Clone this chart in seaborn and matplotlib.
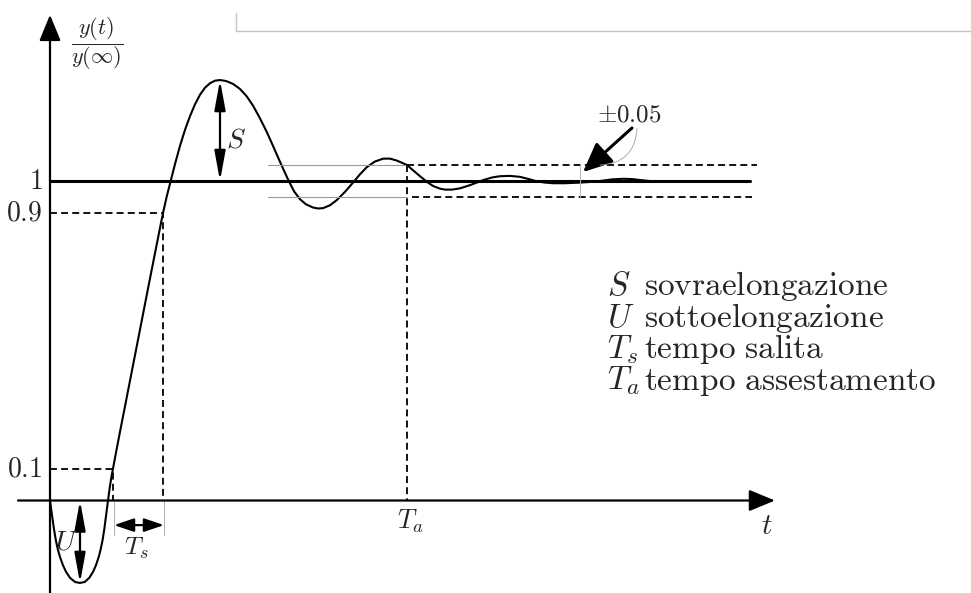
import matplotlib
matplotlib.use("Agg")
import matplotlib.pyplot as plt
import pandas as pd
import seaborn as sns

# Normalised step response y(t)/y(inf), sampled along the curve
t_vals = [0.0, 0.02, 0.04, 0.06, 0.08, 0.10, 0.13, 0.16, 0.20, 0.25, 0.30,
          0.347, 0.393, 0.431, 0.459, 0.487, 0.505, 0.524, 0.543, 0.561, 0.58,
          0.60, 0.615, 0.63, 0.66, 0.70, 0.80, 0.90, 1.00, 1.06, 1.10, 1.13,
          1.17, 1.207, 1.25, 1.30, 1.35, 1.40, 1.45, 1.50, 1.55, 1.60, 1.65,
          1.70, 1.76, 1.83, 1.90, 1.967, 2.03, 2.10, 2.17, 2.23, 2.30, 2.383,
          2.44, 2.50, 2.56, 2.63, 2.68, 2.73, 2.80, 2.867, 2.95, 3.033, 3.10,
          3.167, 3.25, 3.333, 3.40, 3.467, 3.52, 3.57, 3.64, 3.70, 3.77, 3.833,
          3.90, 3.95, 4.02, 4.10, 4.20, 4.333, 4.42, 4.50, 4.60, 4.70, 4.80,
          4.867, 4.95, 5.033, 5.15, 5.30, 5.40, 5.50, 5.62, 5.733, 5.82, 5.90,
          6.03, 6.167]
y_vals = [0.0, -0.046, -0.090, -0.127, -0.155, -0.177, -0.203, -0.223, -0.242,
          -0.255, -0.258, -0.255, -0.242, -0.223, -0.203, -0.177, -0.155,
          -0.127, -0.090, -0.046, 0.0, 0.046, 0.075, 0.10, 0.150, 0.215, 0.375,
          0.535, 0.695, 0.790, 0.853, 0.90, 0.955, 1.0, 1.053, 1.110, 1.160,
          1.203, 1.240, 1.270, 1.292, 1.306, 1.314, 1.316, 1.313, 1.304, 1.288,
          1.265, 1.236, 1.196, 1.152, 1.110, 1.060, 1.003, 0.968, 0.943, 0.927,
          0.917, 0.914, 0.915, 0.924, 0.940, 0.966, 0.996, 1.021, 1.043, 1.061,
          1.070, 1.070, 1.064, 1.057, 1.05, 1.031, 1.015, 0.997, 0.984, 0.976,
          0.973, 0.973, 0.977, 0.987, 1.003, 1.011, 1.015, 1.016, 1.013, 1.005,
          0.999, 0.995, 0.993, 0.993, 0.995, 0.997, 1.0, 1.005, 1.007, 1.006,
          1.003, 0.999, 0.997]

y_final = 1.0
rise_low, rise_high = 0.1, 0.9
band = 0.05
t_rise_start, t_rise_end = 0.63, 1.13
t_settle = 3.57
t_peak, y_peak = 1.70, 1.316
t_under, y_under = 0.30, -0.258

level_labels = ["$1$", "$0.9$", "$0.1$"]
level_values = [1.0, 0.9, 0.1]
legend_symbols = ["$S$", "$U$", "$T_s$", "$T_a$"]
legend_words = [r"$\mathrm{sovraelongazione}$",
                r"$\mathrm{sottoelongazione}$",
                r"$\mathrm{tempo\ salita}$",
                r"$\mathrm{tempo\ assestamento}$"]

sns.set_style("white")
plt.rcParams["mathtext.fontset"] = "cm"
plt.rcParams["lines.scale_dashes"] = False

fig = plt.figure(figsize=(9.71, 5.93), dpi=100)
ax = fig.add_axes([0, 0, 1, 1])
ax.set_xlim(-0.5, 9.21)
ax.set_ylim(-0.2895, 1.5665)
ax.axis("off")

df = pd.DataFrame({"t": t_vals, "y": y_vals})
sns.lineplot(data=df, x="t", y="y", sort=False, estimator=None,
             color="black", linewidth=1.5, ax=ax)

dash = (0, (5, 3))
grey = "#9a9a9a"

# axes with arrow heads
ax_arrow = dict(arrowstyle="-|>,head_length=0.8,head_width=0.33",
                mutation_scale=20, lw=1.6, color="black",
                shrinkA=0, shrinkB=0)
ax.annotate("", xy=(0, 1.52), xytext=(0, -0.2895), arrowprops=ax_arrow)
ax.annotate("", xy=(7.25, 0), xytext=(-0.32, 0), arrowprops=ax_arrow)

# final value
ax.plot([0, 7.0], [y_final, y_final], color="black", lw=2.2)

# rise time guides
ax.plot([0, t_rise_end, t_rise_end], [rise_high, rise_high, 0],
        color="black", lw=1.3, linestyle=dash)
ax.plot([0, t_rise_start, t_rise_start], [rise_low, rise_low, 0],
        color="black", lw=1.3, linestyle=dash)
for tx in (t_rise_start, t_rise_end):
    ax.plot([tx + 0.01, tx + 0.01], [0, -0.108], color="#b0b0b0", lw=0.7)

# settling band
ax.plot([2.18, t_settle], [y_final + band] * 2, color=grey, lw=0.8)
ax.plot([2.18, t_settle], [y_final - band] * 2, color=grey, lw=0.8)
ax.plot([t_settle, 7.07], [y_final + band] * 2, color="black", lw=1.3, linestyle=dash)
ax.plot([t_settle + 0.05, 7.02], [y_final - band] * 2, color="black", lw=1.3, linestyle=dash)
ax.plot([t_settle, t_settle], [y_final + band, 0], color="black", lw=1.3, linestyle=dash)
ax.plot([5.30, 5.30], [y_final - band, y_final + band], color="#b8b8b8", lw=0.7)

# double arrows for S, U and T_s
dbl = dict(arrowstyle="<|-|>,head_length=1.2,head_width=0.22",
           mutation_scale=15, lw=1.6, color="black", shrinkA=0, shrinkB=0)
ax.annotate("", xy=(t_peak, y_peak), xytext=(t_peak, y_final), arrowprops=dbl)
ax.annotate("", xy=(t_under, y_under), xytext=(t_under, 0), arrowprops=dbl)
ax.annotate("", xy=(t_rise_start + 0.01, -0.077), xytext=(t_rise_end + 0.01, -0.077),
            arrowprops=dict(dbl, arrowstyle="<|-|>,head_length=0.8,head_width=0.27"))

# tolerance annotation
ax.annotate("", xy=(5.33, 1.028), xytext=(5.82, 1.166),
            arrowprops=dict(arrowstyle="-|>,head_length=1.0,head_width=0.45",
                            mutation_scale=18, lw=2.2, color="black",
                            shrinkA=0, shrinkB=0))
ax.annotate("", xy=(5.50, 1.05), xytext=(5.87, 1.165),
            arrowprops=dict(arrowstyle="-", lw=0.6, color="#a0a0a0",
                            connectionstyle="arc3,rad=-0.45",
                            shrinkA=0, shrinkB=0))
ax.text(5.79, 1.207, r"$\pm0.05$", fontsize=18, ha="center", va="center")

# labels
for lab, val in zip(level_labels, level_values):
    ax.text(-0.075, val, lab, fontsize=20, ha="right", va="center")
ax.text(0.475, 1.429, r"$\dfrac{y(t)}{y(\infty)}$", fontsize=16, ha="center", va="center")
ax.text(1.86, 1.129, "$S$", fontsize=20, ha="center", va="center")
ax.text(0.167, -0.127, "$U$", fontsize=20, ha="center", va="center")
ax.text(0.86, -0.149, "$T_s$", fontsize=18.5, ha="center", va="center")
ax.text(3.60, -0.064, "$T_a$", fontsize=19, ha="center", va="center")
ax.text(7.17, -0.08, "$t$", fontsize=21, ha="center", va="center")

# legend of the symbols, words aligned in a column
for i, (sym, word) in enumerate(zip(legend_symbols, legend_words)):
    yb = 0.643 - i * 0.0986
    ax.text(5.57, yb, sym, fontsize=24, ha="left", va="baseline")
    ax.text(5.94, yb, word, fontsize=24, ha="left", va="baseline")

# thin frame fragment at the top
ax.plot([1.86, 1.86, 9.3], [1.526, 1.469, 1.469], color="#c4c4c4", lw=1.0)

fig.savefig("out.png", dpi=100)
